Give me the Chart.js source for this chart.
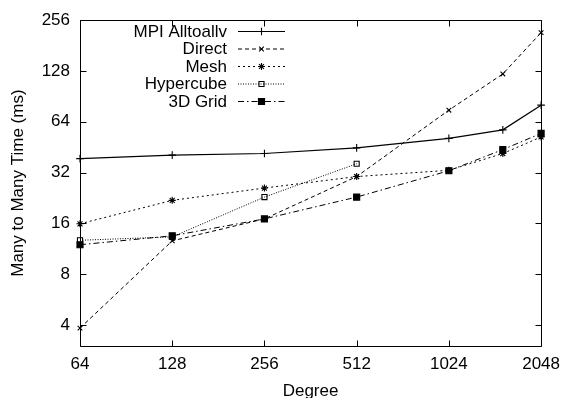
<!DOCTYPE html>
<html>
<head>
<meta charset="utf-8">
<script src="https://cdn.jsdelivr.net/npm/chart.js@4/dist/chart.umd.min.js"></script>
<style>
html,body{margin:0;padding:0;background:#fff;}
#wrap{width:568px;height:398px;position:relative;}
</style>
</head>
<body>
<div id="wrap"><canvas id="c" width="568" height="398"></canvas></div>
<script>
// ---- data ----
const degrees = [64, 128, 256, 512, 1024, 1536, 2048];
const hyperDegrees = [64, 128, 256, 512];
const mpiAlltoallv = [38.7, 40.6, 41.5, 44.8, 51, 57.3, 80.3];
const direct = [3.83, 12.6, 17.0, 30.3, 75, 123, 216];
const mesh = [15.9, 21.9, 25.9, 30.3, 33, 41.5, 52];
const hypercube = [12.7, 13.3, 22.9, 36.1];
const grid3d = [11.95, 13.5, 17.0, 22.9, 32.8, 43.8, 54.6];
const xTicks = [64, 128, 256, 512, 1024, 2048];
const yTicks = [4, 8, 16, 32, 64, 128, 256];
const seriesNames = ['MPI Alltoallv', 'Direct', 'Mesh', 'Hypercube', '3D Grid'];

const FONT = 'Liberation Sans, Arial, Helvetica, sans-serif';
const FS = 17;
const pts = (xs, ys) => xs.map((x, i) => ({x: x, y: ys[i]}));

function ds(label, data, dash, style, radius, fill, width) {
  return {
    label: label, data: data,
    borderColor: '#000', backgroundColor: fill ? '#000' : '#fff',
    borderWidth: width || 1, borderDash: dash,
    pointStyle: style, pointRadius: radius, pointBorderColor: '#000',
    pointBackgroundColor: fill ? '#000' : 'rgba(255,255,255,0)',
    pointBorderWidth: 1.1, pointHoverRadius: radius,
    tension: 0, clip: false, fill: false
  };
}

const datasets = [
  ds(seriesNames[0], pts(degrees, mpiAlltoallv), [], 'cross', 3.8, false, 1.2),
  ds(seriesNames[1], pts(degrees, direct), [4, 3], 'crossRot', 3.3, false),
  ds(seriesNames[2], pts(degrees, mesh), [2, 3], 'star', 3.5, false),
  ds(seriesNames[3], pts(hyperDegrees, hypercube), [1, 1.5], 'rect', 3.6, false),
  ds(seriesNames[4], pts(degrees, grid3d), [6, 3, 1.5, 3], 'rect', 4.3, true)
];

const frame = {
  id: 'frame',
  afterDraw(chart) {
    const ctx = chart.ctx, a = chart.chartArea;
    const xs = chart.scales.x, ys = chart.scales.y;
    ctx.save();
    ctx.strokeStyle = '#000';
    ctx.lineWidth = 1;
    ctx.setLineDash([]);
    ctx.beginPath();
    const L = Math.round(a.left) + 0.5, R = Math.round(a.right) + 0.5;
    const T = Math.round(a.top) + 0.5, B = Math.round(a.bottom) + 0.5;
    ctx.rect(L, T, R - L, B - T);
    const tl = 6;
    xTicks.forEach(v => {
      const px = Math.round(xs.getPixelForValue(v)) + 0.5;
      ctx.moveTo(px, B); ctx.lineTo(px, B - tl);
      ctx.moveTo(px, T); ctx.lineTo(px, T + tl);
    });
    yTicks.forEach(v => {
      const py = Math.round(ys.getPixelForValue(v)) + 0.5;
      ctx.moveTo(L, py); ctx.lineTo(L + tl, py);
      ctx.moveTo(R, py); ctx.lineTo(R - tl, py);
    });
    ctx.stroke();

    // legend (gnuplot style: text right-aligned, sample to the right)
    ctx.font = FS + 'px ' + FONT;
    ctx.fillStyle = '#000';
    ctx.textAlign = 'right';
    ctx.textBaseline = 'middle';
    const textRight = 227, x0 = 238, x1 = 285, y0 = 31, dy = 17.5;
    chart.data.datasets.forEach((d, i) => {
      const y = y0 + i * dy;
      ctx.fillText(d.label, textRight, y + 1);
      ctx.save();
      ctx.lineWidth = d.borderWidth;
      ctx.setLineDash(d.borderDash);
      ctx.beginPath();
      ctx.moveTo(x0, y + 0.5); ctx.lineTo(x1, y + 0.5);
      ctx.stroke();
      ctx.setLineDash([]);
      ctx.strokeStyle = '#000';
      ctx.fillStyle = d.pointBackgroundColor;
      ctx.lineWidth = d.pointBorderWidth;
      Chart.helpers.drawPoint(ctx, {pointStyle: d.pointStyle, radius: d.pointRadius, rotation: 0, borderWidth: d.pointBorderWidth}, (x0 + x1) / 2, y + 0.5);
      ctx.restore();
    });
    ctx.restore();
  }
};

new Chart(document.getElementById('c'), {
  type: 'line',
  data: {datasets: datasets},
  plugins: [frame],
  options: {
    responsive: false,
    animation: false,
    events: [],
    layout: {padding: {left: 0, right: 21, top: 17, bottom: 0}},
    plugins: {legend: {display: false}, tooltip: {enabled: false}},
    scales: {
      x: {
        type: 'logarithmic', min: 64, max: 2048,
        afterBuildTicks: s => { s.ticks = xTicks.map(v => ({value: v})); },
        afterFit: s => { s.height = 52; },
        grid: {display: false, drawTicks: false},
        border: {display: false},
        ticks: {color: '#000', font: {family: FONT, size: FS}, padding: 8, maxRotation: 0, autoSkip: false,
                callback: v => String(v)},
        title: {display: true, text: 'Degree', color: '#000', font: {family: FONT, size: FS}, padding: {top: 4, bottom: -4}}
      },
      y: {
        type: 'logarithmic', min: 3, max: 256,
        afterBuildTicks: s => { s.ticks = yTicks.map(v => ({value: v})); },
        afterFit: s => { s.width = 80; },
        grid: {display: false, drawTicks: false},
        border: {display: false},
        ticks: {color: '#000', font: {family: FONT, size: FS}, padding: 10, autoSkip: false,
                callback: v => String(v)},
        title: {display: true, text: 'Many to Many Time (ms)', color: '#000', font: {family: FONT, size: FS}, padding: {top: 8, bottom: 0}}
      }
    }
  }
});
</script>
</body>
</html>
